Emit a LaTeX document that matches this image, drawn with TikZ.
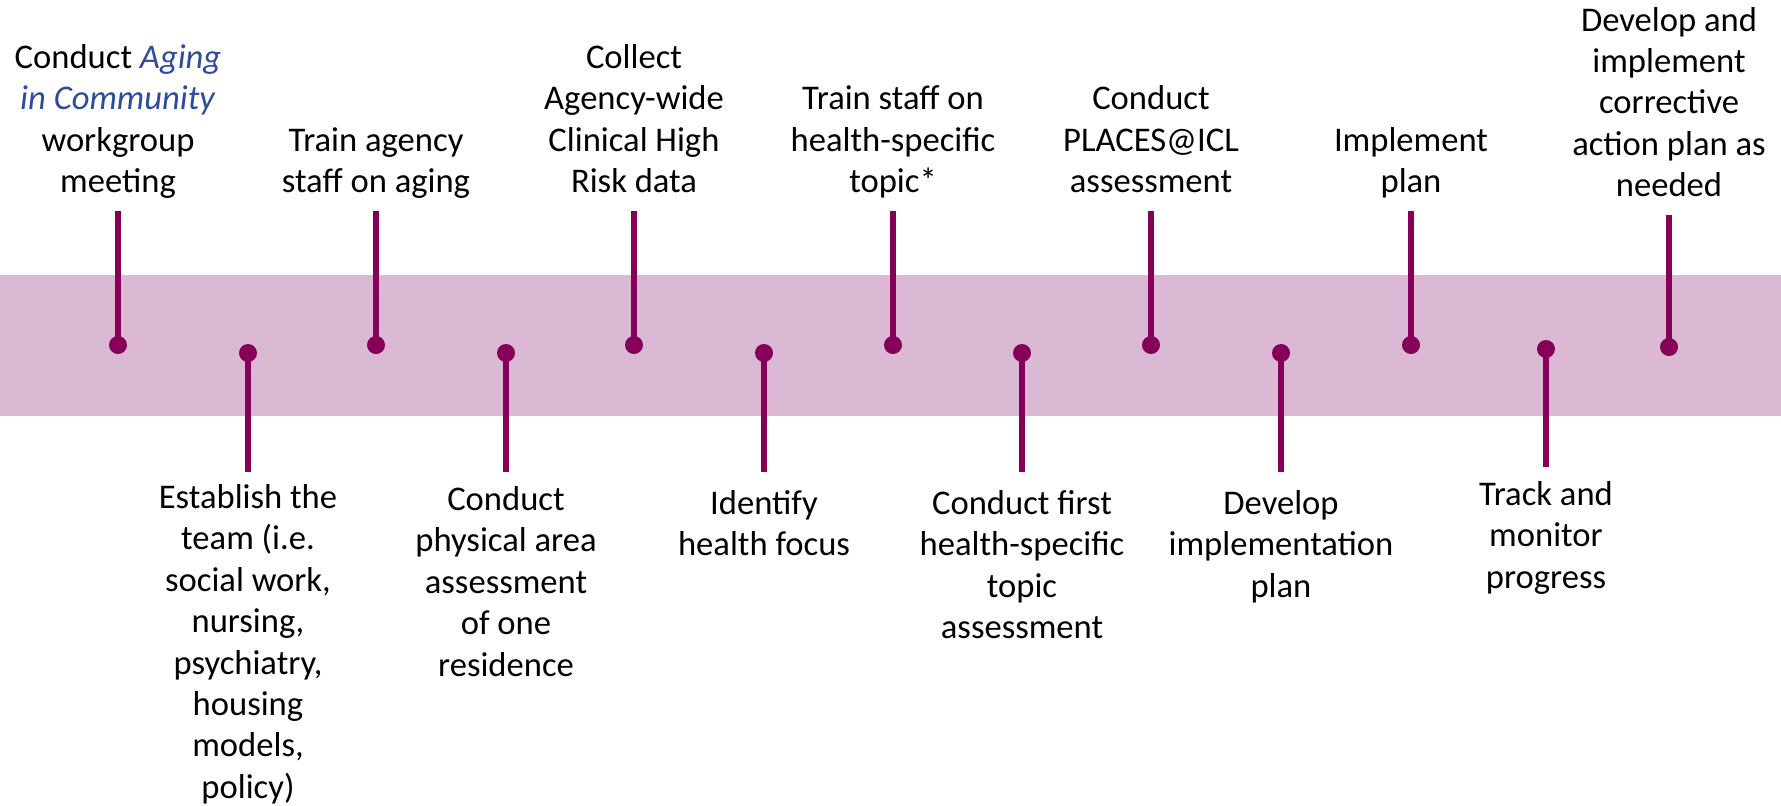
\documentclass[tikz,border=0pt]{standalone}
\usepackage{fontspec}
\setmainfont{Carlito}
\usepackage{tikz}
\usetikzlibrary{positioning}
\definecolor{bandpink}{RGB}{219,184,211}
\definecolor{plum}{RGB}{134,0,90}
\definecolor{agingblue}{RGB}{47,75,158}
\newcommand{\aging}[1]{\textcolor{agingblue}{\textit{#1}}}

\begin{document}
\begin{tikzpicture}[x=0.5pt, y=-0.5pt,
    dot/.style={circle, fill=plum, inner sep=0pt, minimum size=9pt},
    stem/.style={plum, line width=2.8pt},
    milestone/.style={align=center, inner sep=0pt, text depth=0pt, font=\fontsize{17.3pt}{20.7pt}\selectfont},
    node distance=9pt]
    \useasboundingbox (0,0) rectangle (1781,805);
    % timeline band
    \fill[bandpink] (0,275) rectangle (1781,416);

    % steps above the band
    \node[dot] (d1) at (118,345) {};
    \coordinate (e1) at (118,211);
    \node[milestone, above=of e1] (t1) {Conduct \aging{Aging}\\ \aging{in Community}\\ workgroup\\ meeting};
    \node[dot] (d3) at (376,345) {};
    \coordinate (e3) at (376,211);
    \node[milestone, above=of e3] (t3) {Train agency\\ staff on aging};
    \node[dot] (d5) at (634,345) {};
    \coordinate (e5) at (634,211);
    \node[milestone, above=of e5] (t5) {Collect\\ Agency-wide\\ Clinical High\\ Risk data};
    \node[dot] (d7) at (893,345) {};
    \coordinate (e7) at (893,211);
    \node[milestone, above=of e7] (t7) {Train staff on\\ health-specific\\ topic*};
    \node[dot] (d9) at (1151,345) {};
    \coordinate (e9) at (1151,211);
    \node[milestone, above=of e9] (t9) {Conduct\\ PLACES@ICL\\ assessment};
    \node[dot] (d11) at (1411,345) {};
    \coordinate (e11) at (1411,211);
    \node[milestone, above=of e11] (t11) {Implement\\ plan};
    \node[dot] (d13) at (1669,347) {};
    \coordinate (e13) at (1669,215);
    \node[milestone, above=of e13] (t13) {Develop and\\ implement\\ corrective\\ action plan as\\ needed};

    % steps below the band
    \node[dot] (d2) at (248,353) {};
    \coordinate (e2) at (248,472);
    \node[milestone, below=6pt of e2] (t2) {Establish the\\ team (i.e.\\ social work,\\ nursing,\\ psychiatry,\\ housing\\ models,\\ policy)};
    \node[dot] (d4) at (506,353) {};
    \coordinate (e4) at (506,472);
    \node[milestone, below=7pt of e4] (t4) {Conduct\\ physical area\\ assessment\\ of one\\ residence};
    \node[dot] (d6) at (764,353) {};
    \coordinate (e6) at (764,472);
    \node[milestone, below=of e6] (t6) {Identify\\ health focus};
    \node[dot] (d8) at (1022,353) {};
    \coordinate (e8) at (1022,472);
    \node[milestone, below=of e8] (t8) {Conduct first\\ health-specific\\ topic\\ assessment};
    \node[dot] (d10) at (1281,353) {};
    \coordinate (e10) at (1281,472);
    \node[milestone, below=of e10] (t10) {Develop\\ implementation\\ plan};
    \node[dot] (d12) at (1546,349) {};
    \coordinate (e12) at (1546,467);
    \node[milestone, below=7pt of e12] (t12) {Track and\\ monitor\\ progress};

    \draw[stem] (d1.center) -- (e1);
    \draw[stem] (d2.center) -- (e2);
    \draw[stem] (d3.center) -- (e3);
    \draw[stem] (d4.center) -- (e4);
    \draw[stem] (d5.center) -- (e5);
    \draw[stem] (d6.center) -- (e6);
    \draw[stem] (d7.center) -- (e7);
    \draw[stem] (d8.center) -- (e8);
    \draw[stem] (d9.center) -- (e9);
    \draw[stem] (d10.center) -- (e10);
    \draw[stem] (d11.center) -- (e11);
    \draw[stem] (d12.center) -- (e12);
    \draw[stem] (d13.center) -- (e13);
\end{tikzpicture}
\end{document}
